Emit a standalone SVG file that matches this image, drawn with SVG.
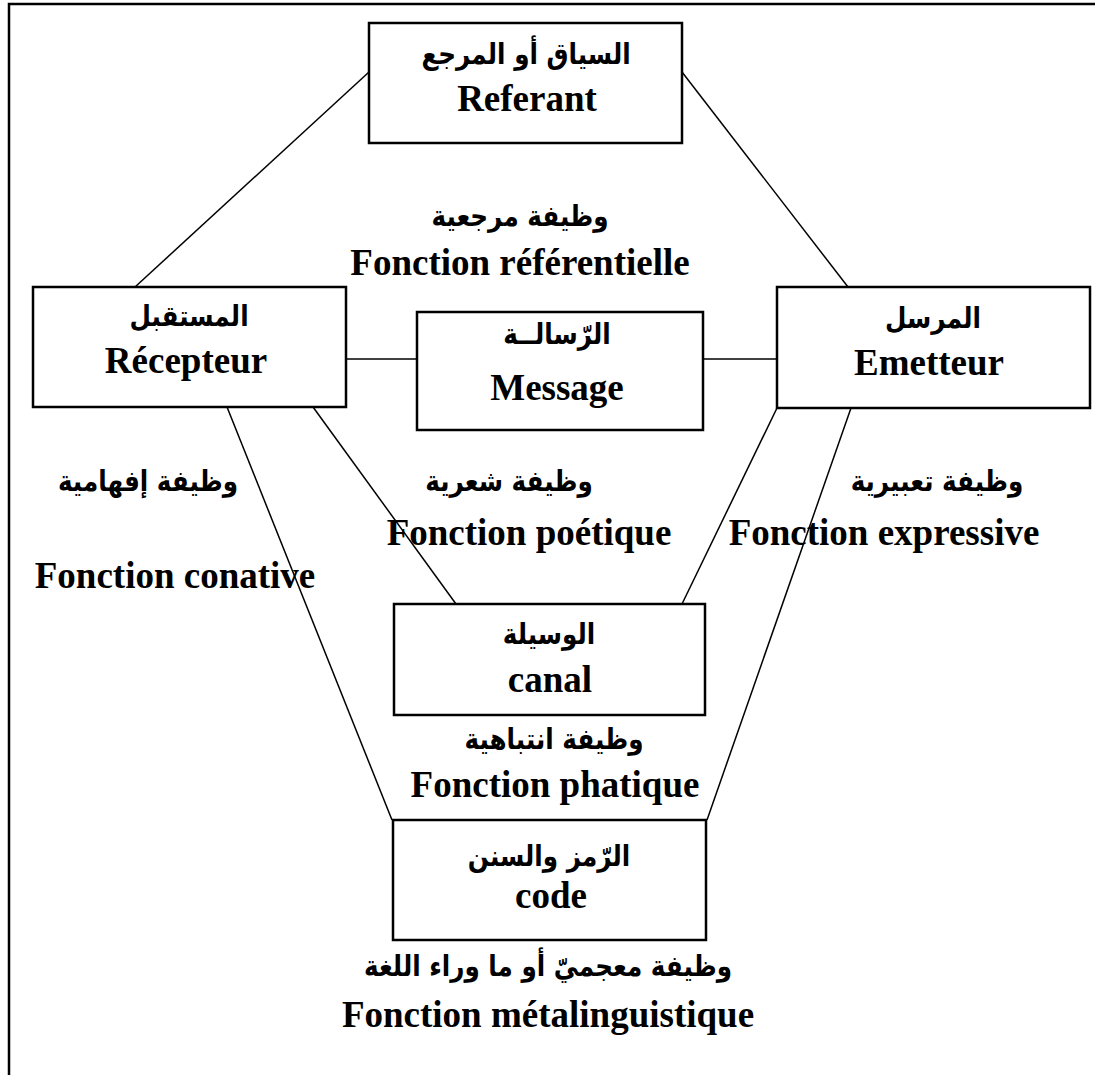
<svg xmlns="http://www.w3.org/2000/svg" width="1095" height="1075" viewBox="0 0 1095 1075">
<style>
.box{fill:#fff;stroke:#000;stroke-width:2.5}
.ln{stroke:#000;stroke-width:1.5;fill:none}
.fr{stroke:#000;stroke-width:2.5;fill:none}
.lat{font-family:"Liberation Serif","Times New Roman",serif;font-weight:bold;font-size:37px;text-anchor:middle;fill:#000}
.ar{font-family:"DejaVu Sans","Liberation Sans",sans-serif;font-weight:bold;font-size:29px;text-anchor:middle;fill:#000}
</style>
<rect width="1095" height="1075" fill="#fff"/>
<path class="fr" d="M9,1075 V4 H1095"/>
<g id="connectors">
<line class="ln" x1="369" y1="72" x2="135" y2="287"/>
<line class="ln" x1="682" y1="72" x2="848" y2="287"/>
<line class="ln" x1="346" y1="359" x2="417" y2="359"/>
<line class="ln" x1="703" y1="359" x2="777" y2="359"/>
<line class="ln" x1="227" y1="407" x2="392" y2="820"/>
<line class="ln" x1="313" y1="407" x2="456" y2="604"/>
<line class="ln" x1="777" y1="408" x2="682" y2="604"/>
<line class="ln" x1="851" y1="408" x2="707" y2="820"/>
</g>
<g id="referant">
<rect class="box" x="369" y="23" width="313" height="120"/>
<text class="ar" transform="translate(526,64) scale(0.85,1)">السياق أو المرجع</text>
<text class="lat" x="527" y="111">Referant</text>
</g>
<g id="recepteur">
<rect class="box" x="33" y="287" width="313" height="120"/>
<text class="ar" transform="translate(189,326) scale(0.85,1)">المستقبل</text>
<text class="lat" x="186" y="373">Récepteur</text>
</g>
<g id="message">
<rect class="box" x="417" y="312" width="286" height="118"/>
<text class="ar" transform="translate(557,344) scale(0.85,1)">الرّسالــة</text>
<text class="lat" x="557" y="400">Message</text>
</g>
<g id="emetteur">
<rect class="box" x="777" y="287" width="313" height="121"/>
<text class="ar" transform="translate(933,328) scale(0.85,1)">المرسل</text>
<text class="lat" x="929" y="375">Emetteur</text>
</g>
<g id="canal">
<rect class="box" x="394" y="604" width="311" height="111"/>
<text class="ar" transform="translate(549,644) scale(0.85,1)">الوسيلة</text>
<text class="lat" x="550" y="692">canal</text>
</g>
<g id="code">
<rect class="box" x="393" y="820" width="313" height="120"/>
<text class="ar" transform="translate(549,866) scale(0.85,1)">الرّمز والسنن</text>
<text class="lat" x="551" y="908">code</text>
</g>
<g id="labels">
<text class="ar" transform="translate(520,226) scale(0.85,1)">وظيفة مرجعية</text>
<text class="lat" x="520" y="275">Fonction référentielle</text>
<text class="ar" transform="translate(148,491) scale(0.85,1)">وظيفة إفهامية</text>
<text class="lat" x="175" y="588">Fonction conative</text>
<text class="ar" transform="translate(509,491) scale(0.85,1)">وظيفة شعرية</text>
<text class="lat" x="529" y="545">Fonction poétique</text>
<text class="ar" transform="translate(937,491) scale(0.85,1)">وظيفة تعبيرية</text>
<text class="lat" x="884" y="545">Fonction expressive</text>
<text class="ar" transform="translate(554,749) scale(0.85,1)">وظيفة انتباهية</text>
<text class="lat" x="555" y="797">Fonction phatique</text>
<text class="ar" transform="translate(548,976) scale(0.85,1)">وظيفة معجميّ أو ما وراء اللغة</text>
<text class="lat" x="548" y="1027">Fonction métalinguistique</text>
</g>
</svg>
